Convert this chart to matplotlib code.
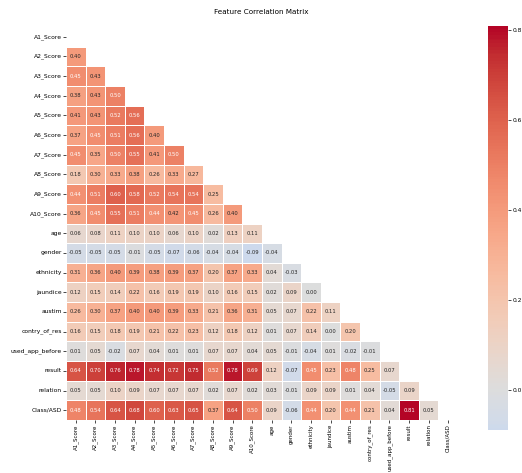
import numpy as np
import pandas as pd
import matplotlib
matplotlib.use("Agg")
import matplotlib.pyplot as plt
import seaborn as sns

features = ["A1_Score", "A2_Score", "A3_Score", "A4_Score", "A5_Score",
            "A6_Score", "A7_Score", "A8_Score", "A9_Score", "A10_Score",
            "age", "gender", "ethnicity", "jaundice", "austim",
            "contry_of_res", "used_app_before", "result", "relation", "Class/ASD"]

# Lower-triangle correlations: each row holds the values against the preceding features
a2 = [0.40]
a3 = [0.45, 0.43]
a4 = [0.38, 0.43, 0.50]
a5 = [0.41, 0.43, 0.52, 0.56]
a6 = [0.37, 0.45, 0.51, 0.56, 0.40]
a7 = [0.45, 0.35, 0.50, 0.55, 0.41, 0.50]
a8 = [0.18, 0.30, 0.33, 0.38, 0.26, 0.33, 0.27]
a9 = [0.44, 0.51, 0.60, 0.58, 0.52, 0.54, 0.54, 0.25]
a10 = [0.36, 0.45, 0.55, 0.51, 0.44, 0.42, 0.45, 0.26, 0.40]
age = [0.06, 0.08, 0.11, 0.10, 0.10, 0.06, 0.10, 0.02, 0.13, 0.11]
gender = [-0.05, -0.05, -0.05, -0.01, -0.05, -0.07, -0.06, -0.04, -0.04, -0.09, -0.04]
ethnicity = [0.31, 0.36, 0.40, 0.39, 0.38, 0.39, 0.37, 0.20, 0.37, 0.33, 0.04, -0.03]
jaundice = [0.12, 0.15, 0.14, 0.22, 0.16, 0.19, 0.19, 0.10, 0.16, 0.15, 0.02, 0.09]
austim = [0.26, 0.30, 0.37, 0.40, 0.40, 0.39, 0.33, 0.21, 0.36, 0.31, 0.05, 0.07, 0.22, 0.11]
contry = [0.16, 0.15, 0.18, 0.19, 0.21, 0.22, 0.23, 0.12, 0.18, 0.12, 0.01, 0.07, 0.14, 0.00, 0.20]
used_app = [0.01, 0.05, -0.02, 0.07, 0.04, 0.01, 0.01, 0.07, 0.07, 0.04, 0.05, -0.01, -0.04, 0.01, -0.02, -0.01]
result = [0.64, 0.70, 0.76, 0.78, 0.74, 0.72, 0.75, 0.52, 0.78, 0.69, 0.12, -0.07, 0.45, 0.23, 0.48, 0.25, 0.07]
relation = [0.05, 0.05, 0.10, 0.09, 0.07, 0.07, 0.07, 0.02, 0.07, 0.02, 0.03, -0.01, 0.09, 0.09, 0.01, 0.04, -0.05, 0.09]
class_asd = [0.48, 0.54, 0.64, 0.68, 0.60, 0.63, 0.65, 0.37, 0.64, 0.50, 0.09, -0.06, 0.44, 0.20, 0.44, 0.21, 0.04, 0.81, 0.05]

lower_rows = [[], a2, a3, a4, a5, a6, a7, a8, a9, a10, age, gender, ethnicity,
              jaundice, austim, contry, used_app, result, relation, class_asd]

cbar_ticks = [0.0, 0.2, 0.4, 0.6, 0.8]

n = len(features)
corr = np.eye(n)
for i, row in enumerate(lower_rows):
    for j, v in enumerate(row):
        corr[i, j] = v
        corr[j, i] = v
corr_df = pd.DataFrame(corr, index=features, columns=features)
mask = np.triu(np.ones_like(corr, dtype=bool))

W, H = 522, 473
fig = plt.figure(figsize=(W / 100, H / 100), dpi=100)
ax = fig.add_axes([66 / W, 1 - 420 / H, 392 / W, 393 / H])
cax = fig.add_axes([488 / W, 1 - 430 / H, 20 / W, 404 / H])

sns.heatmap(corr_df, mask=mask, annot=True, fmt=".2f", cmap="coolwarm", center=0,
            linewidths=0.5, linecolor="white", ax=ax, cbar_ax=cax,
            cbar_kws={"ticks": cbar_ticks},
            annot_kws={"size": 3.8})

ax.tick_params(axis="y", labelsize=4.3, length=2, width=0.5, pad=1)
ax.tick_params(axis="x", labelsize=4.0, length=2, width=0.5, pad=1)
ax.set_xticklabels(ax.get_xticklabels(), rotation=90)
ax.set_yticklabels(ax.get_yticklabels(), rotation=0)
cax.tick_params(labelsize=4.3, length=2, width=0.5, pad=1)
for s in cax.spines.values():
    s.set_visible(False)

fig.suptitle("Feature Correlation Matrix", fontsize=5.2, y=1 - 12 / H, va="center")

fig.savefig("out.png", dpi=100)
